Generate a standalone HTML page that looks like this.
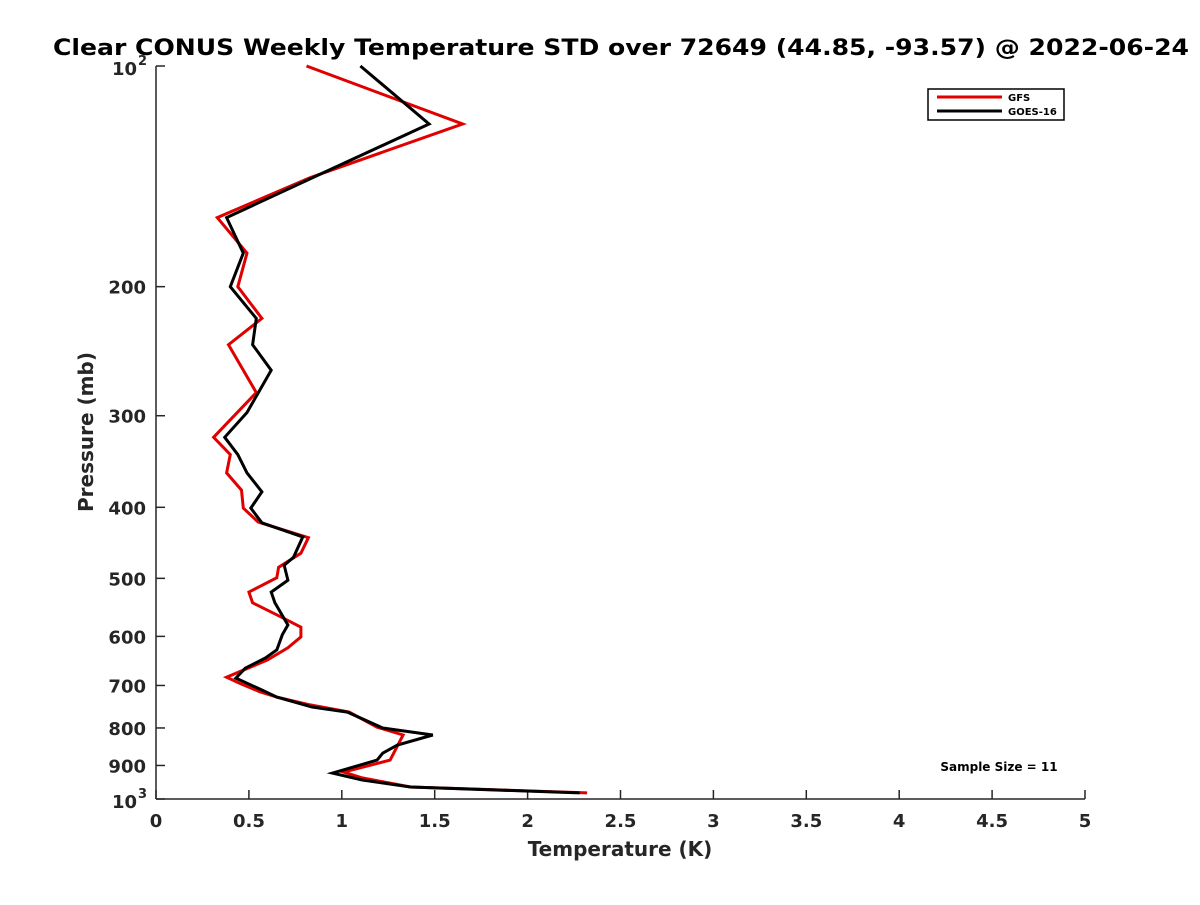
<!DOCTYPE html>
<html><head><meta charset="utf-8"><style>
body{margin:0;background:#fff;}
text{font-family:"DejaVu Sans","Liberation Sans",sans-serif;font-weight:bold;}
</style></head><body>
<svg id="chart" width="1200" height="900" viewBox="0 0 1200 900" xmlns="http://www.w3.org/2000/svg">
<rect width="1200" height="900" fill="#fff"/>
<text x="621" y="55" font-size="22" text-anchor="middle" textLength="1136" lengthAdjust="spacingAndGlyphs" fill="#000">Clear CONUS Weekly Temperature STD over 72649 (44.85, -93.57) @ 2022-06-24</text>
<g id="axes"></g>
<g id="series"></g>
<text x="620" y="856" font-size="20" text-anchor="middle" fill="#262626">Temperature (K)</text>
<text transform="translate(93,432) rotate(-90)" font-size="20" text-anchor="middle" fill="#262626">Pressure (mb)</text>
<g>
<rect x="928" y="89" width="136" height="31" fill="#fff" stroke="#000" stroke-width="1.5"/>
<line x1="937" y1="97" x2="1002" y2="97" stroke="#e00000" stroke-width="3"/>
<text x="1008" y="101" font-size="10" fill="#000">GFS</text>
<line x1="937" y1="111" x2="1002" y2="111" stroke="#000" stroke-width="3"/>
<text x="1008" y="115" font-size="10" fill="#000">GOES-16</text>
</g>
<text x="999" y="771" font-size="12" text-anchor="middle" fill="#000">Sample Size = 11</text>
</svg>
<script>
const gfsTemp=[0.81,1.65,0.83,0.33,0.49,0.44,0.57,0.39,0.54,0.31,0.40,0.38,0.46,0.47,0.55,0.82,0.78,0.66,0.65,0.50,0.52,0.67,0.78,0.78,0.71,0.60,0.38,0.45,0.56,0.65,0.83,1.04,1.19,1.33,1.26,1.01,1.11,1.37,2.32];
const gfsPres=[100,120,142,161,180,200,221,240,279,321,339,359,379,401,419,440,462,483,499,522,540,564,583,601,622,646,682,695,714,726,744,761,798,818,885,919,936,963,981];
const goesTemp=[1.10,1.47,0.87,0.38,0.47,0.40,0.54,0.52,0.62,0.49,0.37,0.44,0.49,0.57,0.51,0.57,0.79,0.74,0.69,0.71,0.62,0.64,0.71,0.68,0.65,0.59,0.48,0.43,0.57,0.65,0.84,1.03,1.22,1.49,1.30,1.22,1.19,0.95,1.11,1.37,2.28];
const goesPres=[100,120,141,161,180,200,221,240,260,297,321,339,359,381,401,420,439,468,480,503,522,540,579,597,626,642,663,684,710,726,749,761,800,818,844,866,885,922,942,963,981];
const xTicks=[0,0.5,1,1.5,2,2.5,3,3.5,4,4.5,5];
const xTickLabels=["0","0.5","1","1.5","2","2.5","3","3.5","4","4.5","5"];
const yTicks=[100,200,300,400,500,600,700,800,900,1000];
const yTickLabels=["10|2","200","300","400","500","600","700","800","900","10|3"];
const X0=156,X1=1085,Y0=66,Y1=799;
function xs(t){return X0+(t-0)/(5-0)*(X1-X0);}
function ys(p){return Y0+(Math.log10(p)-2)*(Y1-Y0);}
const NS="http://www.w3.org/2000/svg";
function mk(tag,attrs,parent){const e=document.createElementNS(NS,tag);for(const k in attrs)e.setAttribute(k,attrs[k]);parent.appendChild(e);return e;}
const ax=document.getElementById('axes');
const yl=mk('line',{x1:X0,y1:Y0,x2:X0,y2:Y1,stroke:'#262626','stroke-width':1.5},ax);


const xl=mk('line',{x1:X0,y1:Y1,x2:X1,y2:Y1,stroke:'#262626','stroke-width':1.5},ax);


xTicks.forEach((t,i)=>{
  const x=xs(t);
  mk('line',{x1:x,y1:Y1,x2:x,y2:Y1-9,stroke:'#262626','stroke-width':1.5},ax);
  const tx=mk('text',{x:x,y:Y1+28,'font-size':18,'text-anchor':'middle',fill:'#262626'},ax);
  tx.textContent=xTickLabels[i];
  
  
});
yTicks.forEach((p,i)=>{
  const y=ys(p);
  mk('line',{x1:X0,y1:y,x2:X0+9,y2:y,stroke:'#262626','stroke-width':1.5},ax);
  const lab=yTickLabels[i];
  if(lab.indexOf('|')>=0){
    const parts=lab.split('|');
    const tx=mk('text',{x:X0-19,y:y+9,'font-size':18,'text-anchor':'end',fill:'#262626'},ax);
    tx.textContent=parts[0];
    
    
    const sup=mk('text',{x:X0-18,y:y-1,'font-size':13,'text-anchor':'start',fill:'#262626'},ax);
    sup.textContent=parts[1];
    
    
  } else {
    const tx=mk('text',{x:X0-10,y:y+7,'font-size':18,'text-anchor':'end',fill:'#262626'},ax);
    tx.textContent=lab;
    
    
  }
});
const sg=document.getElementById('series');
function pts(T,P){return T.map((t,i)=>xs(t).toFixed(1)+','+ys(P[i]).toFixed(1)).join(' ');}
const l1=mk('polyline',{points:pts(gfsTemp,gfsPres),fill:'none',stroke:'#e00000','stroke-width':3,'stroke-linejoin':'miter'},sg);


const l2=mk('polyline',{points:pts(goesTemp,goesPres),fill:'none',stroke:'#000','stroke-width':3,'stroke-linejoin':'miter'},sg);


</script>
</body></html>
